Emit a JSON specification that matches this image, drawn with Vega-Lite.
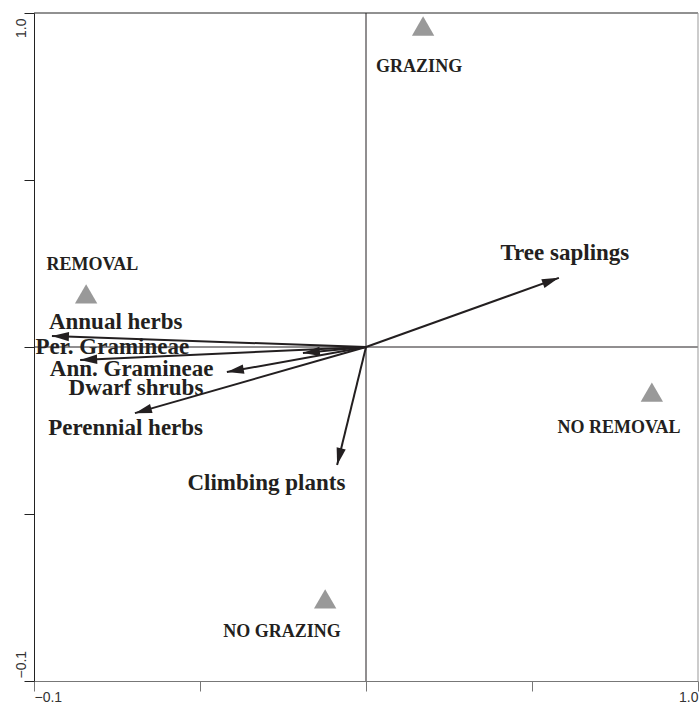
{
  "$schema": "https://vega.github.io/schema/vega-lite/v6.json",
  "width": 664,
  "height": 668,
  "autosize": {"type": "none"},
  "padding": {"left": 34, "top": 13, "right": 1, "bottom": 21},
  "config": {"view": {"stroke": null}},
  "datasets": {
    "arrows": [
      {"name": "Tree saplings", "x": 0.581, "y": 0.207, "lx": 0.599, "ly": 0.28},
      {"name": "Annual herbs", "x": -0.946, "y": 0.033, "lx": -0.754, "ly": 0.076},
      {"name": "Per. Gramineae", "x": -0.861, "y": -0.039, "lx": -0.764, "ly": 0.0},
      {"name": "Ann. Gramineae", "x": -0.419, "y": -0.075, "lx": -0.706, "ly": -0.067},
      {"name": "Dwarf shrubs", "x": -0.19, "y": -0.018, "lx": -0.693, "ly": -0.124},
      {"name": "Perennial herbs", "x": -0.696, "y": -0.198, "lx": -0.724, "ly": -0.244},
      {"name": "Climbing plants", "x": -0.087, "y": -0.353, "lx": -0.3, "ly": -0.406}
    ],
    "groups": [
      {"name": "GRAZING", "x": 0.172, "y": 0.961, "lx": 0.16, "ly": 0.838},
      {"name": "REMOVAL", "x": -0.843, "y": 0.159, "lx": -0.824, "ly": 0.246},
      {"name": "NO REMOVAL", "x": 0.861, "y": -0.135, "lx": 0.762, "ly": -0.243},
      {"name": "NO GRAZING", "x": -0.123, "y": -0.754, "lx": -0.253, "ly": -0.853}
    ],
    "one": [{}]
  },
  "layer": [
    {
      "data": {"name": "one"},
      "mark": {"type": "rule", "color": "#231f20", "strokeWidth": 1},
      "encoding": {
        "x": {
          "datum": 0,
          "type": "quantitative",
          "scale": {"domain": [-1, 1], "nice": false, "zero": false},
          "axis": {
            "orient": "bottom",
            "title": null,
            "grid": false,
            "values": [-1, -0.5, 0, 0.5, 1],
            "labelExpr": "datum.value == -1 ? '−0.1' : (datum.value == 1 ? '1.0' : '')",
            "labelFlush": true,
            "labelFont": "Liberation Sans",
            "labelFontSize": 14,
            "labelColor": "#333333",
            "labelPadding": -1,
            "tickSize": 10,
            "tickColor": "#777777",
            "domainColor": "#777777"
          }
        }
      }
    },
    {
      "data": {"name": "one"},
      "mark": {"type": "rule", "color": "#231f20", "strokeWidth": 1},
      "encoding": {
        "y": {
          "datum": 0,
          "type": "quantitative",
          "scale": {"domain": [-1, 1], "nice": false, "zero": false},
          "axis": {
            "orient": "left",
            "title": null,
            "grid": false,
            "values": [-1, -0.5, 0, 0.5, 1],
            "labelExpr": "datum.value == -1 ? '−0.1' : (datum.value == 1 ? '1.0' : '')",
            "labelAngle": -90,
            "labelAlign": {"condition": {"test": "datum.value > 0", "value": "right"}, "value": "left"},
            "labelBaseline": "alphabetic",
            "labelOffset": {"condition": {"test": "datum.value > 0", "value": 5}, "value": -3},
            "labelFont": "Liberation Sans",
            "labelFontSize": 14,
            "labelColor": "#333333",
            "labelPadding": -1,
            "tickSize": 10,
            "tickColor": "#222222",
            "domainColor": "#222222"
          }
        }
      }
    },
    {
      "data": {"name": "one"},
      "mark": {"type": "rule", "color": "#222222", "strokeWidth": 1},
      "encoding": {"y": {"datum": 1, "type": "quantitative"}}
    },
    {
      "data": {"name": "one"},
      "mark": {"type": "rule", "color": "#999999", "strokeWidth": 1},
      "encoding": {"x": {"datum": 1, "type": "quantitative"}}
    },
    {
      "data": {"name": "arrows"},
      "mark": {"type": "text", "font": "Liberation Serif", "fontWeight": "bold", "fontSize": 23, "color": "#231f20", "baseline": "middle", "align": "center"},
      "encoding": {
        "x": {"field": "lx", "type": "quantitative"},
        "y": {"field": "ly", "type": "quantitative"},
        "text": {"field": "name"}
      }
    },
    {
      "data": {"name": "groups"},
      "mark": {"type": "text", "font": "Liberation Serif", "fontWeight": "bold", "fontSize": 18, "color": "#231f20", "baseline": "middle", "align": "center"},
      "encoding": {
        "x": {"field": "lx", "type": "quantitative"},
        "y": {"field": "ly", "type": "quantitative"},
        "text": {"field": "name"}
      }
    },
    {
      "data": {"name": "groups"},
      "mark": {"type": "point", "shape": "triangle-up", "filled": true, "color": "#999999", "opacity": 1, "size": 500},
      "encoding": {
        "x": {"field": "x", "type": "quantitative"},
        "y": {"field": "y", "type": "quantitative"}
      }
    },
    {
      "data": {"name": "arrows"},
      "mark": {"type": "rule", "color": "#231f20", "strokeWidth": 2},
      "encoding": {
        "x": {"field": "x", "type": "quantitative"},
        "y": {"field": "y", "type": "quantitative"},
        "x2": {"datum": 0},
        "y2": {"datum": 0}
      }
    },
    {
      "data": {"name": "arrows"},
      "transform": [{"calculate": "atan2(datum.x, datum.y) * 180 / PI", "as": "angle"}],
      "mark": {"type": "point", "shape": "M0,0L-0.55,2L0.55,2Z", "filled": true, "color": "#231f20", "opacity": 1, "size": 289, "strokeWidth": 0},
      "encoding": {
        "x": {"field": "x", "type": "quantitative"},
        "y": {"field": "y", "type": "quantitative"},
        "angle": {"field": "angle", "type": "quantitative", "scale": null}
      }
    }
  ]
}
